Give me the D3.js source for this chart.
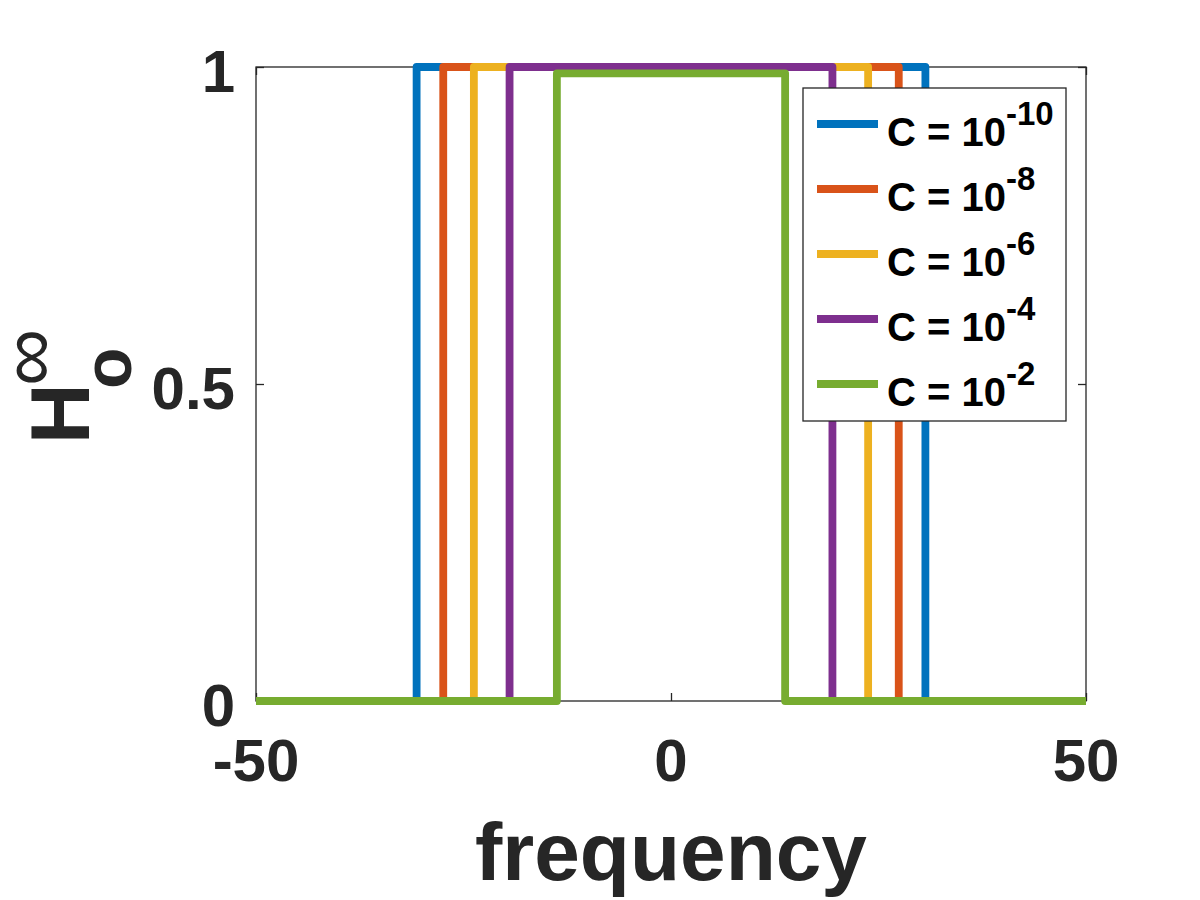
<!DOCTYPE html>
<html>
<head>
<meta charset="utf-8">
<script src="https://cdn.jsdelivr.net/npm/d3@7"></script>
<style>
  body { margin: 0; background: #fff; }
  text { font-family: "Liberation Sans", Arial, sans-serif; }
</style>
</head>
<body>
<script>
// data
var exponents = ["-10", "-8", "-6", "-4", "-2"];
var cutoffs = [30.65, 27.44, 23.75, 19.45, 13.75];   // half width of the pass band
var peaks = [1, 1, 1, 1, 0.99];
var colors = ["#0072BD", "#D95319", "#EDB120", "#7E2F8E", "#77AC30"];
var xDomain = [-50, 50];
var yDomain = [0, 1];
var xTicks = [-50, 0, 50];
var yTicks = [0, 0.5, 1];

var W = 1200, H = 900;
var pl = 256, pr = 1086, pt = 67, pb = 701;
var axisColor = "#262626";

var svg = d3.select("body").append("svg")
  .attr("width", W)
  .attr("height", H);

var x = d3.scaleLinear().domain(xDomain).range([pl, pr]);
var y = d3.scaleLinear().domain(yDomain).range([pb, pt]);

// box
svg.append("rect")
  .attr("x", pl).attr("y", pt)
  .attr("width", pr - pl).attr("height", pb - pt)
  .attr("fill", "none")
  .attr("stroke", axisColor)
  .attr("stroke-width", 1.3);

// ticks (inward, on all four sides)
var tl = 8;
var bx = d3.axisBottom(x).tickValues(xTicks).tickSize(-tl).tickFormat("");
var tx = d3.axisTop(x).tickValues(xTicks).tickSize(-tl).tickFormat("");
var ly = d3.axisLeft(y).tickValues(yTicks).tickSize(-tl).tickFormat("");
var ry = d3.axisRight(y).tickValues(yTicks).tickSize(-tl).tickFormat("");
svg.append("g").attr("transform", "translate(0," + pb + ")").call(bx);
svg.append("g").attr("transform", "translate(0," + pt + ")").call(tx);
svg.append("g").attr("transform", "translate(" + pl + ",0)").call(ly);
svg.append("g").attr("transform", "translate(" + pr + ",0)").call(ry);
svg.selectAll(".domain").remove();
svg.selectAll(".tick line").attr("stroke", axisColor).attr("stroke-width", 1.3);

// tick labels
svg.append("g").selectAll("text").data(xTicks).enter().append("text")
  .attr("x", function(d) { return x(d); })
  .attr("y", pb + 80)
  .attr("text-anchor", "middle")
  .attr("font-size", 60)
  .attr("font-weight", "bold")
  .attr("fill", axisColor)
  .text(function(d) { return d; });

svg.append("g").selectAll("text").data(yTicks).enter().append("text")
  .attr("x", pl - 21)
  .attr("y", function(d) { return y(d) + 25; })
  .attr("text-anchor", "end")
  .attr("font-size", 60)
  .attr("font-weight", "bold")
  .attr("fill", axisColor)
  .text(function(d) { return d; });

// lines
var line = d3.line()
  .x(function(d) { return x(d[0]); })
  .y(function(d) { return y(d[1]); });

var steps = cutoffs.map(function(c, i) {
  var p = peaks[i];
  return [[xDomain[0], 0], [-c, 0], [-c, p], [c, p], [c, 0], [xDomain[1], 0]];
});

svg.append("g").selectAll("path").data(steps).enter().append("path")
  .attr("d", line)
  .attr("fill", "none")
  .attr("stroke", function(d, i) { return colors[i]; })
  .attr("stroke-width", 7.8)
  .attr("stroke-linejoin", "round");

// axis labels
svg.append("text")
  .attr("x", (pl + pr) / 2)
  .attr("y", 880)
  .attr("text-anchor", "middle")
  .attr("font-size", 82)
  .attr("font-weight", "bold")
  .attr("fill", axisColor)
  .text("frequency");

var yl = svg.append("g").attr("transform", "translate(89,444) rotate(-90)");
yl.append("text")
  .attr("x", 0).attr("y", 0)
  .attr("font-size", 84)
  .attr("font-weight", "bold")
  .attr("fill", axisColor)
  .text("H");
yl.append("text")
  .attr("x", 55).attr("y", 42)
  .attr("font-size", 68)
  .attr("font-weight", "bold")
  .attr("fill", axisColor)
  .text("o");
yl.append("text")
  .attr("x", 58).attr("y", -34)
  .attr("font-size", 80)
  .attr("fill", axisColor)
  .text("\u221E");

// legend
var lg = svg.append("g");
lg.append("rect")
  .attr("x", 803).attr("y", 88)
  .attr("width", 1066 - 803).attr("height", 421 - 88)
  .attr("fill", "#fff")
  .attr("stroke", axisColor)
  .attr("stroke-width", 1.3);

var rowY = d3.scaleLinear().domain([0, exponents.length - 1]).range([124, 384]);
var rows = lg.selectAll("g.row").data(exponents).enter().append("g")
  .attr("class", "row")
  .attr("transform", function(d, i) { return "translate(0," + rowY(i) + ")"; });
rows.append("line")
  .attr("x1", 817).attr("x2", 878)
  .attr("y1", 0).attr("y2", 0)
  .attr("stroke", function(d, i) { return colors[i]; })
  .attr("stroke-width", 7.8);
var lt = rows.append("text")
  .attr("x", 887).attr("y", 22)
  .attr("font-size", 40)
  .attr("font-weight", "bold")
  .attr("fill", "#000");
lt.append("tspan").text("C = 10");
lt.append("tspan")
  .attr("dy", -21)
  .attr("font-size", 33)
  .text(function(d) { return d; });
</script>
</body>
</html>
